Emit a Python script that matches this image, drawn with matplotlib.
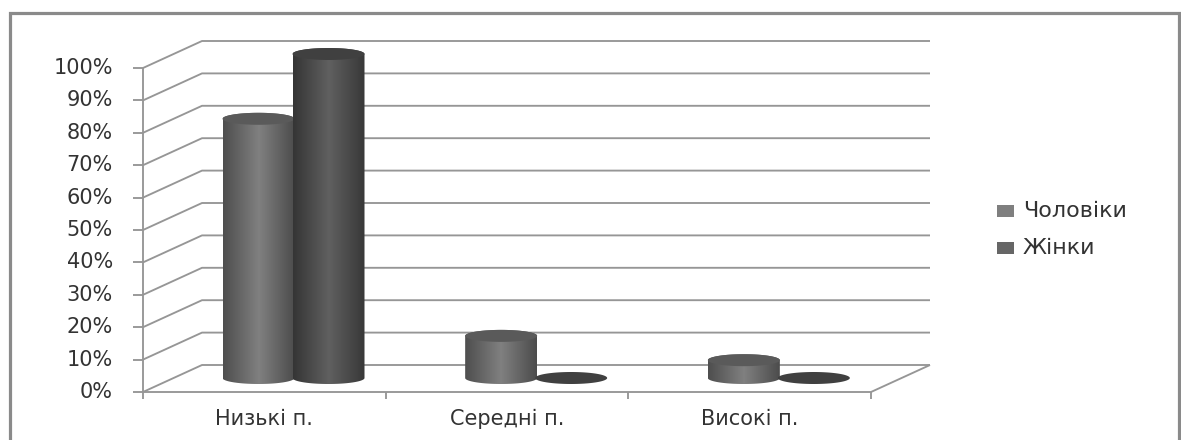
import numpy as np
import matplotlib
matplotlib.use('Agg')
import matplotlib.pyplot as plt
from matplotlib.path import Path
from matplotlib.patches import PathPatch, Rectangle
from matplotlib.colors import LinearSegmentedColormap

# DATA:
# ==================================================================
CATEGORIES = ['Низькі п.', 'Середні п.', 'Високі п.']
MEN   = [80, 13, 5.5]
WOMEN = [100, 0, 0]
SERIES_NAMES = ['Чоловіки', 'Жінки']
YTICKS = list(range(0, 101, 10))

# GEOMETRY (PIXELS):
# ==================================================================
W, H = 1181, 440
X0, X1 = 143, 871      # front edge of the floor
Y0, Y100 = 392, 68     # front 0% and 100%
DX, DY = 59, 27        # depth of the box

LINE = '#969696'
TEXT = '#333333'

fig = plt.figure(figsize=(W/100, H/100), dpi=100)

# whole-figure axes for the outer frame
bg = fig.add_axes([0, 0, 1, 1])
bg.set_xlim(0, W)
bg.set_ylim(H, 0)
bg.axis('off')
bg.add_patch(Rectangle((9.5, 13.5), 1169.5, 440, fc='white', ec='#8a8a8a', lw=2.3))

ax = fig.add_axes([X0/W, 1-Y0/H, (X1-X0)/W, (Y0-Y100)/H])
ax.set_xlim(0, len(CATEGORIES))
ax.set_ylim(0, 100)
ax.axis('off')
ax.patch.set_alpha(0)

# pixel offsets as data units
px = len(CATEGORIES)/(X1-X0)
py = 100/(Y0-Y100)
ddx, ddy = DX*px, DY*py
lkw = dict(color=LINE, lw=1.35, clip_on=False, solid_capstyle='butt')

# WALLS AND GRID:
for v in YTICKS:
    ax.plot([0, ddx, 3+ddx], [v, v+ddy, v+ddy], zorder=1, **lkw)
    ax.plot([-10*px, 0], [v, v], zorder=1, **lkw)
ax.plot([0, 0], [0, 100], zorder=1, **lkw)
ax.plot([0, 3, 3+ddx], [0, 0, ddy], zorder=1, **lkw)
for i in range(len(CATEGORIES)+1):
    ax.plot([i, i], [0, -7*py], zorder=1, **lkw)

# CYLINDERS:
cyl_men   = LinearSegmentedColormap.from_list('m', ['#4e4e4e', '#808080', '#4c4c4c'])
cyl_women = LinearSegmentedColormap.from_list('w', ['#353535', '#606060', '#383838'])
TOPS = ['#5a5a5a', '#404040']
GAP = 50*px
BW = 72*px
SHIFT = 70*px
RY = 6*py
BASE = 14*py

t = np.linspace(0, np.pi, 60)
grad = np.linspace(0, 1, 200).reshape(1, -1)

def cylinder(left, value, cmap, top, z):
    cx = left + BW/2
    rx = BW/2
    y0 = BASE
    y1 = BASE + value
    if value > 0:
        xs = np.r_[cx - rx*np.cos(t), cx + rx*np.cos(t)]
        ys = np.r_[y0 - RY*np.sin(t), y1 + RY*np.sin(t)]
        path = Path(np.c_[xs, ys])
        im = ax.imshow(grad, extent=[cx-rx, cx+rx, y0-RY, y1+RY], aspect='auto',
                       cmap=cmap, zorder=z)
        # tall cylinders run past the top of the axes box
        im.set_clip_box(bg.bbox)
        im.set_clip_path(PathPatch(path, transform=ax.transData))
    a = np.linspace(0, 2*np.pi, 90)
    ax.fill(cx + rx*np.cos(a), y1 + RY*np.sin(a), color=top, lw=0, zorder=z+0.5, clip_on=False)

for i in range(len(CATEGORIES)):
    left = i + 0.5*ddx + GAP
    cylinder(left, MEN[i], cyl_men, TOPS[0], 3)
    cylinder(left + SHIFT, WOMEN[i], cyl_women, TOPS[1], 4)

ax.set_xlim(0, len(CATEGORIES))
ax.set_ylim(0, 100)

# TICK LABELS:
fs = 15
for v in YTICKS:
    ax.text(-30*px, v, '%i%%' % v, ha='right', va='center', fontsize=fs,
            color=TEXT, clip_on=False)
for i, name in enumerate(CATEGORIES):
    ax.text(i+0.5, -27*py, name, ha='center', va='center', fontsize=fs,
            color=TEXT, clip_on=False)

# LEGEND:
for y, name, c in zip([211, 248], SERIES_NAMES, ['#7f7f7f', '#666666']):
    bg.add_patch(Rectangle((997, y-6), 17, 12, fc=c, ec='none'))
    bg.text(1023, y, name, ha='left', va='center', fontsize=fs+1, color=TEXT)

fig.savefig('out.png', dpi=100)
